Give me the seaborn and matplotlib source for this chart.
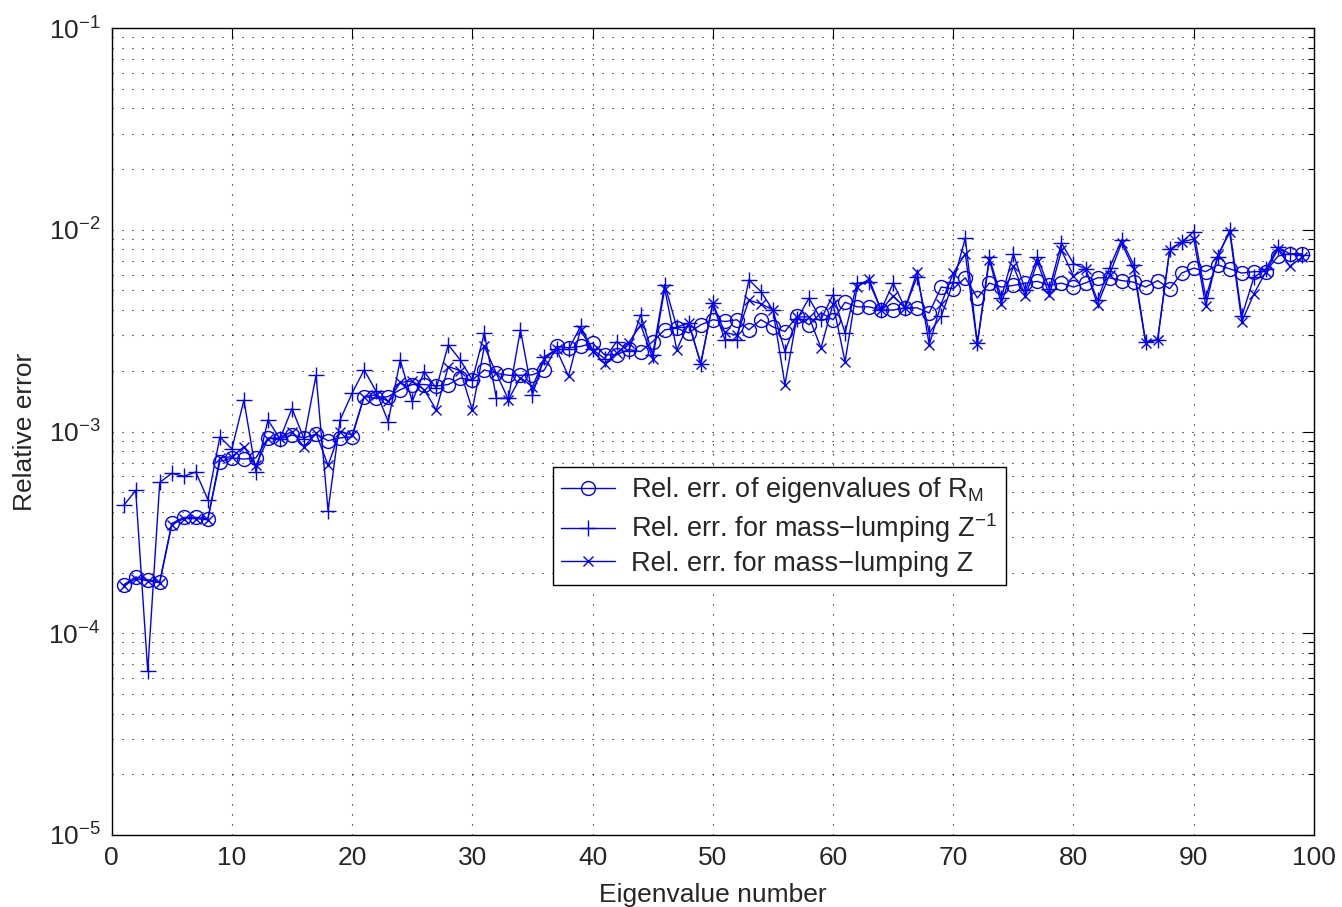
import numpy as np
import pandas as pd
import matplotlib
matplotlib.use('Agg')
import matplotlib.pyplot as plt
import seaborn as sns
from matplotlib.ticker import LogLocator, MultipleLocator, NullFormatter

# Data
eig_number = np.arange(1, 100)

err_rm = [
    1.74e-4, 1.90e-4, 1.84e-4, 1.80e-4, 3.50e-4, 3.75e-4, 3.75e-4, 3.70e-4, 7.1e-4, 7.4e-4,
    7.3e-4, 7.4e-4, 9.3e-4, 9.2e-4, 9.6e-4, 9.3e-4, 9.7e-4, 9.0e-4, 9.3e-4, 9.4e-4,
    1.49e-3, 1.46e-3, 1.49e-3, 1.61e-3, 1.71e-3, 1.71e-3, 1.68e-3, 1.71e-3, 1.84e-3, 1.80e-3,
    2.02e-3, 1.94e-3, 1.90e-3, 1.90e-3, 1.91e-3, 2.02e-3, 2.64e-3, 2.60e-3, 2.64e-3, 2.74e-3,
    2.40e-3, 2.40e-3, 2.55e-3, 2.49e-3, 2.79e-3, 3.19e-3, 3.25e-3, 3.08e-3, 3.38e-3, 3.58e-3,
    3.51e-3, 3.58e-3, 3.19e-3, 3.58e-3, 3.30e-3, 3.13e-3, 3.72e-3, 3.38e-3, 3.87e-3, 3.58e-3,
    4.37e-3, 4.15e-3, 4.15e-3, 4.00e-3, 4.00e-3, 4.10e-3, 4.10e-3, 3.87e-3, 5.20e-3, 5.10e-3,
    5.78e-3, 4.59e-3, 5.44e-3, 5.20e-3, 5.30e-3, 5.44e-3, 5.55e-3, 5.30e-3, 5.44e-3, 5.20e-3,
    5.45e-3, 5.78e-3, 5.78e-3, 5.60e-3, 5.50e-3, 5.20e-3, 5.60e-3, 5.10e-3, 6.10e-3, 6.46e-3,
    6.20e-3, 6.70e-3, 6.40e-3, 6.10e-3, 6.20e-3, 6.20e-3, 7.40e-3, 7.60e-3, 7.60e-3,
]

err_lump_zinv = [
    4.3e-4, 5.1e-4, 6.5e-5, 5.6e-4, 6.2e-4, 6.0e-4, 6.3e-4, 4.6e-4, 9.4e-4, 8.2e-4,
    1.43e-3, 6.3e-4, 1.14e-3, 9.2e-4, 1.30e-3, 9.2e-4, 1.90e-3, 4.05e-4, 1.14e-3, 1.55e-3,
    2.02e-3, 1.58e-3, 1.12e-3, 2.26e-3, 1.41e-3, 1.98e-3, 1.64e-3, 2.69e-3, 2.26e-3, 1.80e-3,
    3.08e-3, 1.46e-3, 1.46e-3, 3.19e-3, 1.52e-3, 2.35e-3, 2.55e-3, 2.55e-3, 3.32e-3, 2.55e-3,
    2.30e-3, 2.79e-3, 2.50e-3, 3.79e-3, 2.40e-3, 5.35e-3, 3.30e-3, 3.44e-3, 2.17e-3, 4.33e-3,
    2.85e-3, 2.85e-3, 5.65e-3, 4.94e-3, 4.00e-3, 2.49e-3, 3.60e-3, 4.58e-3, 3.60e-3, 4.76e-3,
    3.08e-3, 5.44e-3, 5.50e-3, 4.00e-3, 5.44e-3, 4.10e-3, 5.86e-3, 3.08e-3, 3.72e-3, 5.50e-3,
    9.10e-3, 2.74e-3, 7.30e-3, 4.60e-3, 7.60e-3, 5.00e-3, 7.30e-3, 5.10e-3, 8.60e-3, 6.80e-3,
    6.40e-3, 4.47e-3, 6.50e-3, 8.90e-3, 6.70e-3, 2.79e-3, 2.85e-3, 8.00e-3, 8.70e-3, 9.80e-3,
    4.60e-3, 7.30e-3, 1.00e-2, 3.72e-3, 5.80e-3, 6.40e-3, 8.20e-3, 7.60e-3, 7.50e-3,
]

err_lump_z = [
    1.72e-4, 1.86e-4, 1.82e-4, 1.78e-4, 3.45e-4, 3.70e-4, 3.70e-4, 3.65e-4, 7.4e-4, 7.5e-4,
    8.4e-4, 6.8e-4, 9.2e-4, 9.3e-4, 1.0e-3, 8.4e-4, 9.8e-4, 6.8e-4, 1.0e-3, 9.6e-4,
    1.49e-3, 1.52e-3, 1.41e-3, 1.75e-3, 1.78e-3, 1.61e-3, 1.28e-3, 2.10e-3, 2.00e-3, 1.28e-3,
    2.64e-3, 1.94e-3, 1.44e-3, 1.85e-3, 1.67e-3, 2.30e-3, 2.55e-3, 1.88e-3, 3.20e-3, 2.50e-3,
    2.17e-3, 2.45e-3, 2.75e-3, 3.38e-3, 2.30e-3, 5.10e-3, 2.54e-3, 3.44e-3, 2.17e-3, 4.33e-3,
    3.10e-3, 3.00e-3, 4.47e-3, 4.30e-3, 4.00e-3, 1.71e-3, 3.70e-3, 3.70e-3, 2.59e-3, 4.30e-3,
    2.22e-3, 5.20e-3, 5.70e-3, 4.00e-3, 4.70e-3, 4.10e-3, 6.20e-3, 2.69e-3, 4.30e-3, 6.10e-3,
    7.60e-3, 2.70e-3, 7.10e-3, 4.30e-3, 6.60e-3, 4.70e-3, 6.90e-3, 4.76e-3, 7.90e-3, 5.90e-3,
    6.40e-3, 4.25e-3, 6.00e-3, 8.60e-3, 6.40e-3, 2.75e-3, 2.85e-3, 7.90e-3, 8.70e-3, 9.00e-3,
    4.20e-3, 7.50e-3, 9.70e-3, 3.50e-3, 4.80e-3, 6.20e-3, 8.00e-3, 6.60e-3, 7.30e-3,
]

labels = [
    'Rel. err. of eigenvalues of R$_{\\mathregular{M}}$',
    'Rel. err. for mass\u2212lumping Z$^{\\mathregular{-1}}$',
    'Rel. err. for mass\u2212lumping Z',
]

sns.set_style('white')
plt.rcParams['font.family'] = ['Liberation Sans', 'DejaVu Sans']
plt.rcParams['mathtext.fontset'] = 'custom'
plt.rcParams['mathtext.rm'] = 'Liberation Sans'
plt.rcParams['mathtext.it'] = 'Liberation Sans'
plt.rcParams['mathtext.default'] = 'regular'

fig = plt.figure(figsize=(13.42, 9.07), dpi=100)
ax = fig.add_axes([0.0832, 0.0794, 0.8959, 0.8897])

blue = (0, 0, 1)
sns.lineplot(x=eig_number, y=err_rm, ax=ax, color=blue, lw=1.0, marker='o',
             markersize=10, markerfacecolor='none', markeredgecolor=blue,
             markeredgewidth=1.0, label=labels[0])
sns.lineplot(x=eig_number, y=err_lump_zinv, ax=ax, color=blue, lw=1.0, marker='+',
             markersize=11, markeredgecolor=blue, markeredgewidth=1.0, label=labels[1])
sns.lineplot(x=eig_number, y=err_lump_z, ax=ax, color=blue, lw=1.0, marker='x',
             markersize=7.5, markeredgecolor=blue, markeredgewidth=1.0, label=labels[2])

ax.set_yscale('log')
ax.set_xlim(0, 100)
ax.set_ylim(1e-5, 1e-1)
ax.xaxis.set_major_locator(MultipleLocator(10))
ax.yaxis.set_major_locator(LogLocator(base=10, numticks=10))
ax.yaxis.set_minor_locator(LogLocator(base=10, subs=np.arange(2, 10), numticks=10))
ax.yaxis.set_minor_formatter(NullFormatter())

dots = (0, (1, 8))
ax.grid(True, which='major', axis='both', color='black', lw=0.8, linestyle=dots)
ax.grid(True, which='minor', axis='y', color='black', lw=0.8, linestyle=dots)

ax.tick_params(which='both', direction='in', top=True, right=True, labelsize=19,
               color='black', width=0.8)
ax.tick_params(which='major', length=8, pad=8)
ax.tick_params(which='minor', length=4)
for s in ax.spines.values():
    s.set_color('black')
    s.set_linewidth(1.0)

ax.set_xlabel('Eigenvalue number', fontsize=19, labelpad=9)
ax.set_ylabel('Relative error', fontsize=19, labelpad=8)

leg = ax.legend(loc='upper left', bbox_to_anchor=(0.412, 0.485), bbox_transform=fig.transFigure,
                borderaxespad=0, fancybox=False, framealpha=1, edgecolor='black',
                fontsize=19.5, handlelength=2.0, labelspacing=0.22, borderpad=0.3,
                handletextpad=0.6)
leg.get_frame().set_linewidth(1.0)

fig.savefig('out.png', dpi=100)
